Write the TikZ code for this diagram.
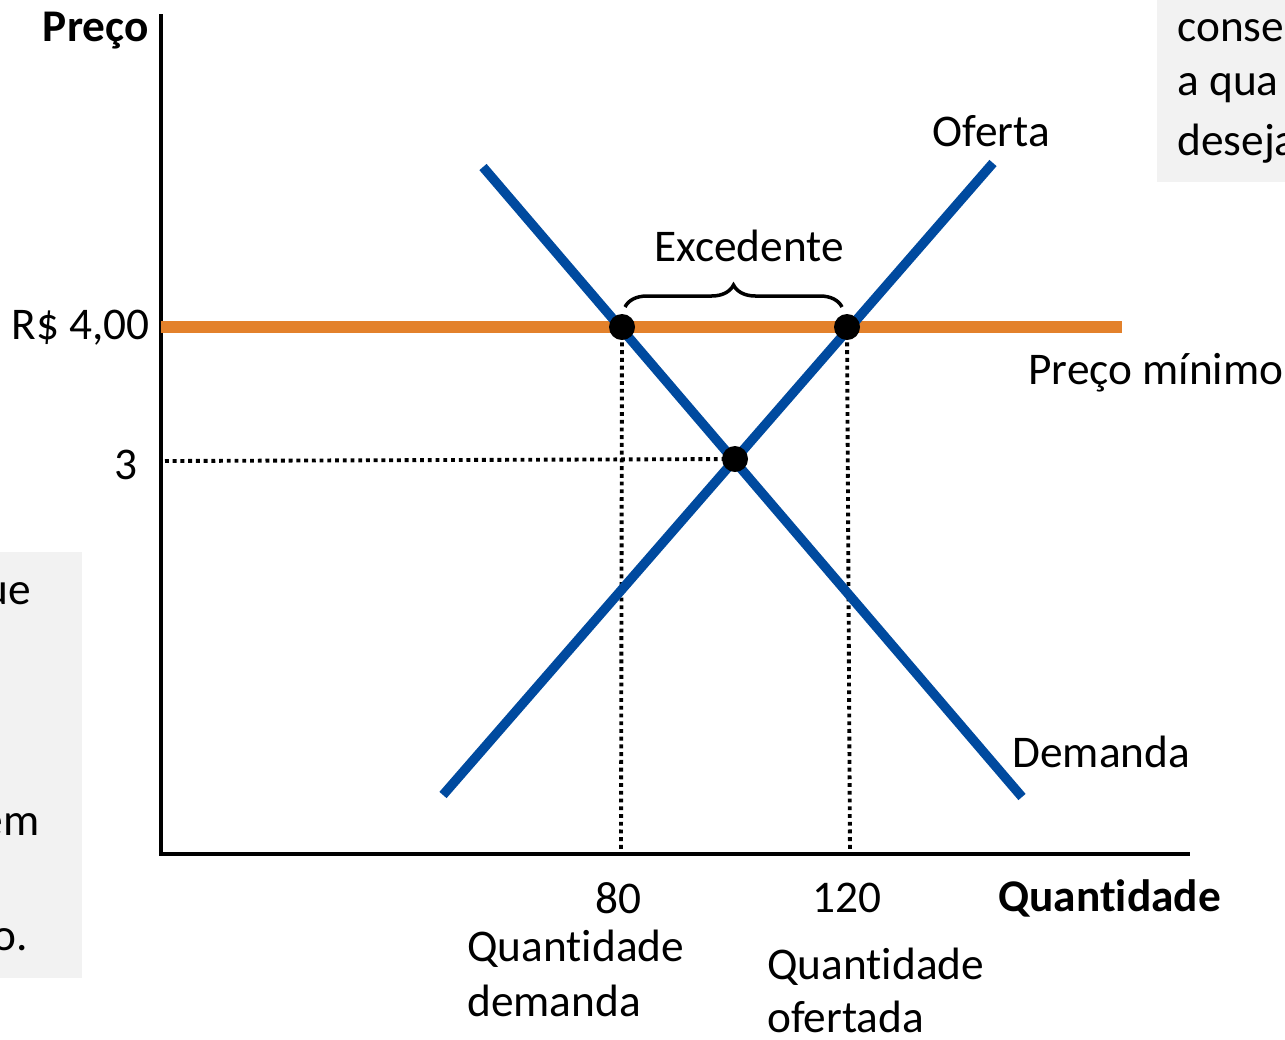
\documentclass[tikz,border=0pt]{standalone}
\usepackage{fontspec}
\setmainfont{Carlito}[Ligatures=NoCommon]
\usetikzlibrary{decorations.pathreplacing, positioning}

\begin{document}
\begin{tikzpicture}[x=0.02cm, y=-0.02cm, every node/.style={font=\fontsize{25.8}{31}\selectfont, inner sep=0pt}]
	\useasboundingbox (0,0) rectangle (1285,1039);
	% side boxes
	\fill [gray!10] (1157,0) rectangle (1285,182);
	\fill [gray!10] (0,552) rectangle (82,978);
	\node (box_top1) [anchor=west] at (1177,31) {conse};
	\node (box_top2) [anchor=west] at (1177,88) {a qua};
	\node (box_top3) [anchor=west] at (1177,144) {deseja};
	\node (box_left1) [anchor=east] at (31,594) {ue};
	\node (box_left2) [anchor=east] at (40,825) {em};
	\node (box_left3) [anchor=east] at (28,940) {o.};

	% axes
	\coordinate (origin) at (161,854);
	\coordinate (ytop) at (161,14);
	\coordinate (xend) at (1190,854);
	\draw [line width=2.3pt] (ytop) -- (origin) -- (xend);
	\node (price_label) [anchor=east, font=\fontsize{25.8}{31}\selectfont\bfseries] at (149,31) {Preço};
	\node (qty_label) [anchor=west, font=\fontsize{25.8}{31}\selectfont\bfseries] at (998,898) {Quantidade};

	% points
	\coordinate (eq) at (735,459);
	\coordinate (pd) at (622,327);
	\coordinate (ps) at (847,327);
	\coordinate (y3) at (165,461);
	\coordinate (x80) at (621,854);
	\coordinate (x120) at (850,854);

	% dotted guides
	\draw [line width=2.2pt, dash pattern=on 2.2pt off 2.2pt] (y3) -- (eq);
	\draw [line width=2.2pt, dash pattern=on 2.2pt off 2.2pt] (pd) -- (x80);
	\draw [line width=2.2pt, dash pattern=on 2.2pt off 2.2pt] (ps) -- (x120);

	% price floor
	\draw [line width=7.1pt, draw={rgb,255:red,227;green,129;blue,43}] (161,327) coordinate (floor_start) -- (1122,327) coordinate (floor_end);

	% curves
	\draw [line width=5.4pt, draw={rgb,255:red,0;green,74;blue,159}] (483,167) coordinate (d_start) -- (1022,797) coordinate (d_end);
	\draw [line width=5.4pt, draw={rgb,255:red,0;green,74;blue,159}] (443,795) coordinate (s_start) -- (993,163) coordinate (s_end);

	% dots
	\fill (pd) circle (13);
	\fill (ps) circle (13);
	\fill (eq) circle (13);

	% brace
	\draw [line width=2pt, decorate, decoration={brace, amplitude=0.44cm}] (625,307) -- (842,307);

	% labels
	\node (excedente) at (749,246) {Excedente};
	\node (oferta) at (991,131) {Oferta};
	\node (demanda) [anchor=west] at (1012,752) {Demanda};
	\node (floor_label) [anchor=west] at (1028,373) {Preço mínimo};
	\node (p4) [anchor=east] at (150,328) {R\$ 4,00};
	\node (p3) [anchor=east] at (138,465) {3};
	\node (q80) at (618,898) {80};
	\node (q120) at (847,898) {120};
	\node (qd) [anchor=north west, align=left, font=\fontsize{25.8}{31}\selectfont] at (467,930) {Quantidade\\demanda};
	\node (qs) [anchor=north west, align=left, font=\fontsize{25.8}{30}\selectfont] at (767,948) {Quantidade\\ofertada};
\end{tikzpicture}
\end{document}
